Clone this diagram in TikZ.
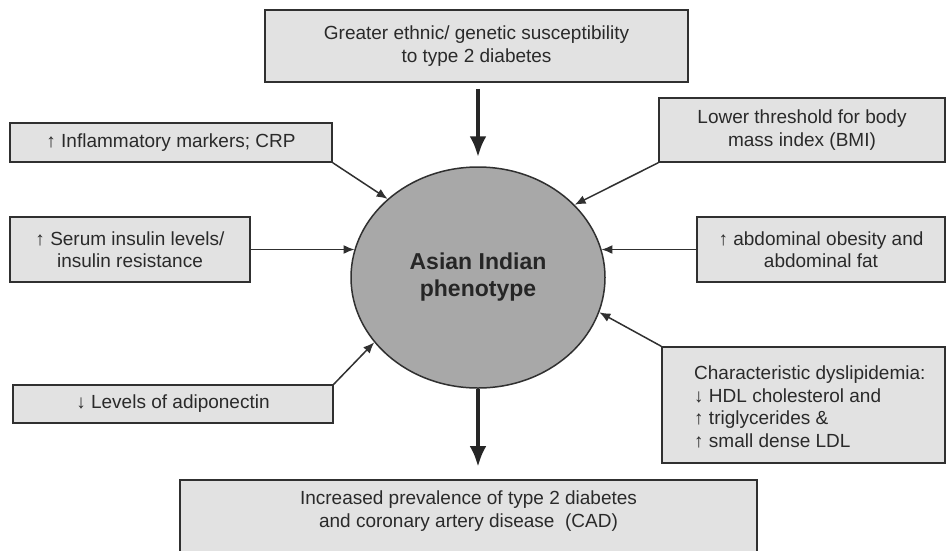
\documentclass[tikz,border=0pt]{standalone}
\usepackage{fontspec}
\setmainfont{Liberation Sans}
\usetikzlibrary{shapes.geometric,arrows.meta}
\definecolor{boxfill}{HTML}{E2E2E2}
\definecolor{ellfill}{HTML}{A8A8A8}
\definecolor{edge}{HTML}{303030}
\definecolor{txt}{HTML}{2A2A2A}
\tikzset{
  box/.style={draw=edge, line width=1.5pt, fill=boxfill, inner sep=0pt, text=txt,
    font=\fontsize{19}{22.5}\selectfont, align=center},
  boxtxt/.style={inner sep=0pt, text=txt, font=\fontsize{19}{22.5}\selectfont, align=center},
  arr/.style={draw=edge, line width=1.5pt, -{Latex[length=11pt,width=9pt]}},
  bigarr/.style={draw=black!85, line width=4.5pt, -{Latex[length=21pt,width=17pt]}},
}
\begin{document}
\begin{tikzpicture}[x=1pt,y=-1pt]
\clip (0,0) rectangle (947,550);
\fill[white] (0,0) rectangle (947,550);

\node[box, minimum width=423, minimum height=72] (top) at (476.5,46)
  {Greater ethnic/ genetic susceptibility\\to type 2 diabetes};
\node[box, minimum width=322, minimum height=39] (crp) at (171,142.5)
  {↑ Inflammatory markers; CRP};
\node[box, minimum width=240, minimum height=65] (serum) at (130,249.5)
  {↑ Serum insulin levels/\\insulin resistance};
\node[box, minimum width=320, minimum height=38] (adipo) at (173,404)
  {↓ Levels of adiponectin};
\node[box, minimum width=286, minimum height=64] (bmi) at (802,130)
  {Lower threshold for body\\mass index (BMI)};
\node[box, minimum width=248, minimum height=65] (abd) at (821,249.5)
  {↑ abdominal obesity and\\abdominal fat};
\node[box, minimum width=283, minimum height=116] (dys) at (803.5,405) {};
\node[boxtxt, align=left, anchor=west] (dystxt) at (694,407)
  {Characteristic dyslipidemia:\\↓ HDL cholesterol and\\↑ triglycerides \&\\↑ small dense LDL};
\node[box, minimum width=577, minimum height=90, anchor=north] (bottom) at (468.5,479) {};
\node[boxtxt] (bottomtxt) at (468.5,511)
  {Increased prevalence of type 2 diabetes\\and coronary artery disease\ \ (CAD)};

\node[ellipse, draw=edge, line width=1.5pt, fill=ellfill, minimum width=254, minimum height=221,
  inner sep=0pt, text=black!85, font=\fontsize{23}{27}\selectfont\bfseries, align=center]
  (pheno) at (478,277.5) {Asian Indian\\phenotype};

\draw[bigarr] ([yshift=-6pt]top.south -| pheno.north) -- ([yshift=9pt]pheno.north);
\draw[bigarr, shorten >=12pt] (pheno.south) -- (pheno.south |- bottom.north);

\draw[arr] (crp.south east) -- (pheno.139);
\draw[arr] (serum.east) -- (serum.east -| pheno.167);
\draw[arr] (adipo.north east) -- (pheno.212);
\draw[arr] (bmi.south west) -- (pheno.37);
\draw[arr] (abd.west) -- (abd.west -| pheno.13);
\draw[arr] (dys.north west) -- (pheno.344);
\end{tikzpicture}
\end{document}
